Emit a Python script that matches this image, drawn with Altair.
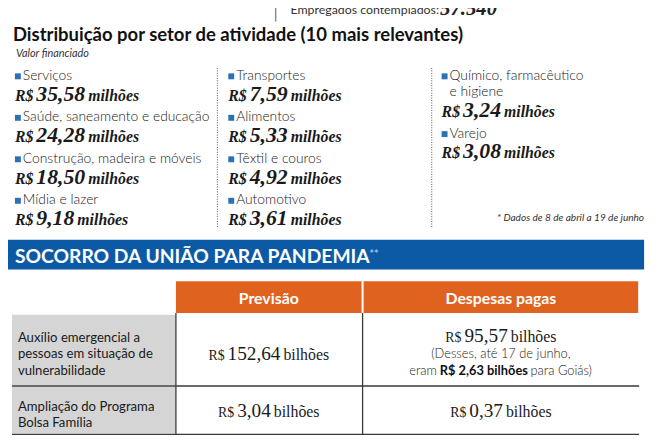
import altair as alt
import pandas as pd

# ------------------------------------------------------------------ data
employees = "57.540"
title = "Distribuição por setor de atividade (10 mais relevantes)"
subtitle = "Valor financiado"
sectors = ["Serviços", "Saúde, saneamento e educação", "Construção, madeira e móveis",
           "Mídia e lazer", "Transportes", "Alimentos", "Têxtil e couros", "Automotivo",
           "Químico, farmacêutico\ne higiene", "Varejo"]
sector_values = [35.58, 24.28, 18.50, 9.18, 7.59, 5.33, 4.92, 3.61, 3.24, 3.08]
sectors_per_column = [4, 4, 2]
footnote = "* Dados de 8 de abril a 19 de junho"

banner = "SOCORRO DA UNIÃO PARA PANDEMIA"
table_headers = ["Previsão", "Despesas pagas"]
programs = ["Auxílio emergencial a\npessoas em situação de\nvulnerabilidade",
            "Ampliação do Programa\nBolsa Família"]
forecast = [152.64, 3.04]
paid = [95.57, 0.37]
goias_paid = 2.63
paid_note = ["(Desses, até 17 de junho,", "eram ", " para Goiás)"]

# ------------------------------------------------------------------ helpers
SANS = "Lato"
SERIF = "Liberation Serif"
BLUE = "#0c5aa6"
SQUARE = "#2a72b5"
ORANGE = "#e0621f"
GRAY = "#d5d5d5"
INK = "#222222"


def br(v):
    s = f"{v:,.2f}"
    return s.replace(",", "X").replace(".", ",").replace("X", ".")


SERIF_W = {",": .25, ".": .25, "R": .667, "$": .5, " ": .25, "m": .778, "i": .278,
           "l": .278, "h": .5, "õ": .5, "e": .444, "s": .389, "b": .5}


def serif_w(s, size):
    return sum(SERIF_W.get(c, .5) for c in s) * size


LATO_W = {" ": .26, ",": .2, "(": .3, ")": .3, "R": .6, "$": .55, "i": .24, "l": .24,
          "m": .82, "r": .36, "s": .41, "t": .33, "G": .7, "j": .24, "á": .5, "é": .51,
          "ã": .5, "õ": .55, "a": .5, "e": .51, "o": .55}


def lato_w(s, size):
    return sum(LATO_W.get(c, .55) for c in s) * size


texts = []
rects = []
rules = []
dots = []


def T(x, y, text, font=SANS, size=13, weight="normal", style="normal", align="left", color=INK):
    texts.append(dict(x=x, y=y, text=text, font=font, size=size, weight=weight,
                      style=style, align=align, color=color))


# ------------------------------------------------------------------ top strip
rules.append(dict(x=279, x2=279, y=0, y2=19, color="#8a8a8a", w=1.5))
T(294, 11, "Empregados contemplados:", size=12.5, color="#333333")
T(294 + lato_w("Empregados contemplados:", 12.5) - 2, 12, employees, font=SERIF, size=21,
  weight="bold", style="italic")

T(13, 39, title, size=18.7, weight="bold", color="#111111")
T(16, 55, subtitle, size=11, style="italic", color="#333333")

# ------------------------------------------------------------------ sector grid
col_x = [15, 231, 447]
idx = 0
for c, n in enumerate(sectors_per_column):
    x0 = col_x[c]
    y = 78
    for k in range(n):
        name = sectors[idx]
        val = br(sector_values[idx])
        rects.append(dict(x=x0, x2=x0 + 6, y=y - 6.5, y2=y - 0.5, color=SQUARE))
        lines = name.split("\n")
        for j, ln in enumerate(lines):
            T(x0 + 8, y + 16.5 * j, ln, size=14, weight=300, color="#1a1a1a")
        yv = y + 16.5 * (len(lines) - 1) + 21
        xp = x0
        T(xp, yv, "R$", font=SERIF, size=16, weight="bold", style="italic", color="#1a1a1a")
        xp += serif_w("R$", 16) + 3
        T(xp, yv, val, font=SERIF, size=22, weight="bold", style="italic", color="#1a1a1a")
        xp += serif_w(val, 22) + 3
        T(xp, yv, "milhões", font=SERIF, size=16, weight="bold", style="italic", color="#1a1a1a")
        y = yv + 21
        idx += 1

for xs in (220, 437):
    dots.append(dict(x=xs, x2=xs, y=66, y2=228, color="#555555", w=1))

T(652, 221, footnote, size=10.2, style="italic", color="#333333", align="right")

# ------------------------------------------------------------------ banner
rects.append(dict(x=8, x2=652, y=240, y2=270, color=BLUE))
T(15, 263, banner, size=19.5, weight="bold", color="white")
T(374, 258, "**", size=11, weight="bold", color="#9cc2e8")

# ------------------------------------------------------------------ table
cols = [(178, 366), (368, 646)]
for (a, b), h in zip(cols, table_headers):
    rects.append(dict(x=a, x2=b, y=282, y2=314, color=ORANGE))
    T((a + b) / 2, 305, h, size=16, weight="bold", color="white", align="center")

row_spans = [(316, 387), (389, 436)]
for (ya, yb) in row_spans:
    rects.append(dict(x=12, x2=178, y=ya, y2=yb, color=GRAY))
for yl in (388, 437):
    rules.append(dict(x=12, x2=647, y=yl, y2=yl, color="#3a3a3a", w=1.3))
for xl in (178, 367):
    rules.append(dict(x=xl, x2=xl, y=314, y2=437, color="#3a3a3a", w=1.3))

first_line = [343.5, 413.5]
for r, prog in enumerate(programs):
    for j, ln in enumerate(prog.split("\n")):
        T(18, first_line[r] + 16.5 * j, ln, size=13.3, color="#1a1a1a")


def money(cx, yb, v):
    s = br(v)
    w = serif_w("R$", 14) + 3 + serif_w(s, 19.5) + 3 + serif_w("bilhões", 16)
    xp = cx - w / 2
    T(xp, yb, "R$", font=SERIF, size=14, color="#1a1a1a")
    xp += serif_w("R$", 14) + 3
    T(xp, yb, s, font=SERIF, size=19.5, color="#1a1a1a")
    xp += serif_w(s, 19.5) + 3
    T(xp, yb, "bilhões", font=SERIF, size=16, color="#1a1a1a")


cx_prev = (cols[0][0] + cols[0][1]) / 2
cx_paid = (cols[1][0] + cols[1][1]) / 2
money(cx_prev, 362, forecast[0])
money(cx_prev, 419, forecast[1])
money(cx_paid, 343, paid[0])
money(cx_paid, 419, paid[1])

NS = 13
T(cx_paid, 360, paid_note[0], size=NS, weight=300, color="#1a1a1a", align="center")
bold_txt = "R$ " + br(goias_paid) + " bilhões"
w_pre, w_bold, w_post = lato_w(paid_note[1], NS), lato_w(bold_txt, NS) * 1.04, lato_w(paid_note[2], NS)
x_start = cx_paid - (w_pre + w_bold + w_post) / 2
T(x_start + w_pre - 3, 377, paid_note[1].strip(), size=NS, weight=300, color="#1a1a1a", align="right")
T(x_start + w_pre, 377, bold_txt, size=NS, weight="bold", color="#111111")
T(x_start + w_pre + w_bold + 3, 377, paid_note[2].strip(), size=NS, weight=300, color="#1a1a1a")

# ------------------------------------------------------------------ chart
XS = alt.Scale(domain=[8, 660], nice=False, zero=False)
YS = alt.Scale(domain=[8, 440], nice=False, zero=False, reverse=True)


def X(f="x"):
    return alt.X(f"{f}:Q", scale=XS, axis=None)


def Y(f="y"):
    return alt.Y(f"{f}:Q", scale=YS, axis=None)


layers = []
layers.append(alt.Chart(pd.DataFrame(rects)).mark_rect().encode(
    x=X(), x2="x2", y=Y(), y2="y2", color=alt.Color("color:N", scale=None)))
for r in rules:
    layers.append(alt.Chart(pd.DataFrame([r])).mark_rule(strokeWidth=r["w"], color=r["color"]).encode(
        x=X(), x2="x2", y=Y(), y2="y2"))
for r in dots:
    layers.append(alt.Chart(pd.DataFrame([r])).mark_rule(strokeWidth=r["w"], color=r["color"],
                                                         strokeDash=[1, 1.5]).encode(
        x=X(), x2="x2", y=Y(), y2="y2"))

tdf = pd.DataFrame(texts)
for (font, weight, style, align), g in tdf.groupby(["font", "weight", "style", "align"], sort=False):
    wt = int(weight) if str(weight).isdigit() else weight
    layers.append(alt.Chart(g).mark_text(font=font, fontWeight=wt, fontStyle=style, align=align,
                                         baseline="alphabetic").encode(
        x=X(), y=Y(), text="text:N",
        size=alt.Size("size:Q", scale=None, legend=None),
        color=alt.Color("color:N", scale=None)))

chart = alt.layer(*layers).properties(
    width=652, height=432, padding=0,
    autosize=alt.AutoSizeParams(type="none"),
    background="white",
).configure_view(stroke=None)

chart.save("out.html", embed_options={"renderer": "svg", "actions": False})
